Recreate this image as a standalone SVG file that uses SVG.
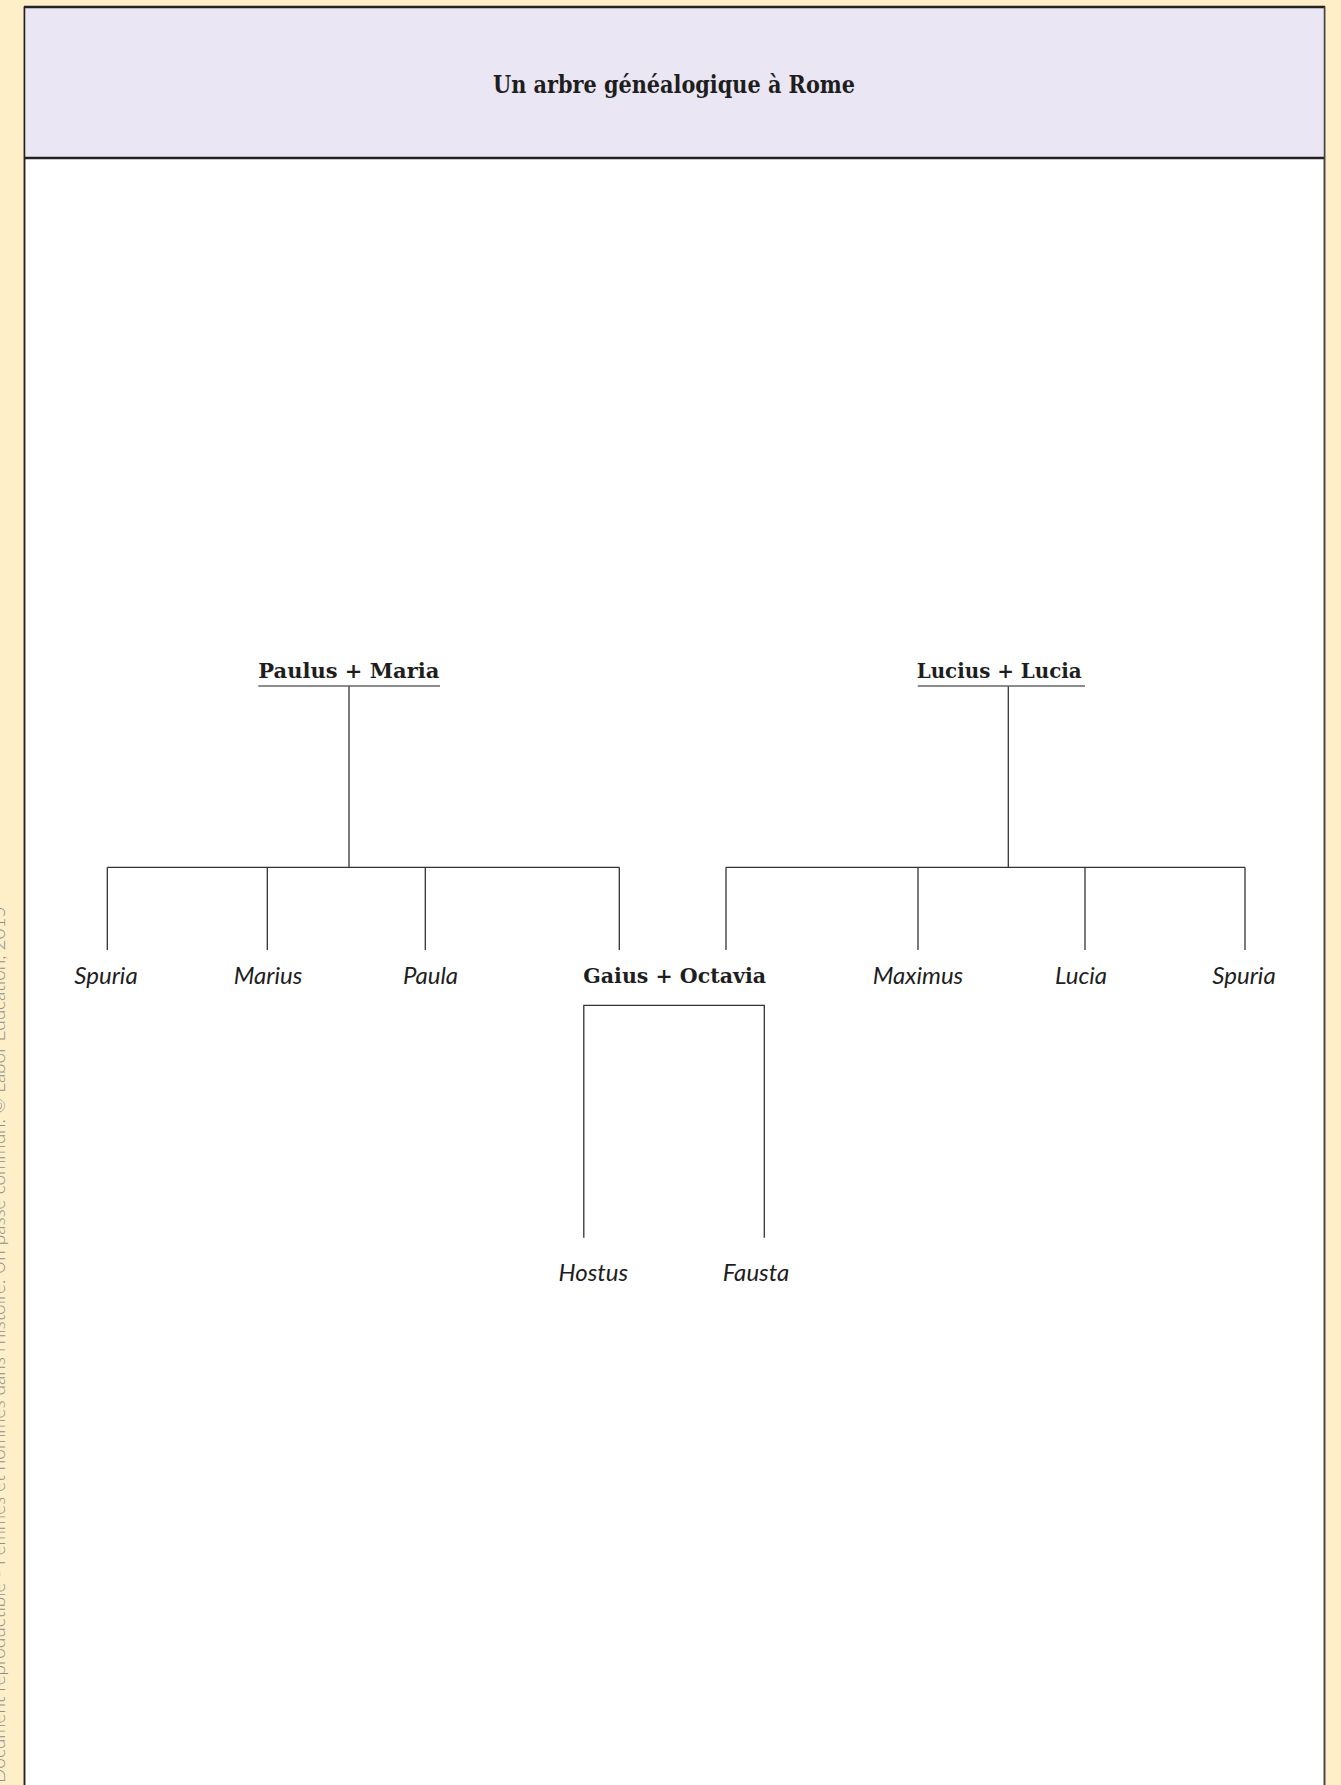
<svg xmlns="http://www.w3.org/2000/svg" width="1341" height="1785" viewBox="0 0 1341 1785">
<style>
.title{font-family:"DejaVu Serif",serif;font-weight:bold;font-size:24px;fill:#1e1e1e}
.couple{font-family:"DejaVu Serif",serif;font-weight:bold;font-size:21px;fill:#1e1e1e}
.child{font-family:Lato,"Open Sans",sans-serif;font-style:italic;font-size:24px;fill:#1e1e1e;text-anchor:middle}
.wm{font-family:Lato,"Open Sans",sans-serif;font-weight:300;font-size:19px;fill:#8f8f8f}
.ln{stroke:#333;stroke-width:1.3;fill:none}
.ul{stroke:#666;stroke-width:1.6}
</style>
<rect x="0" y="0" width="1341" height="1785" fill="#FFEFC8"/>
<rect x="24.5" y="7" width="1300" height="1800" fill="#ffffff" stroke="#2a2a2a" stroke-width="1.5"/>
<rect x="24.5" y="7" width="1300" height="151" fill="#EAE6F4"/>
<line x1="24" y1="7" x2="1325" y2="7" stroke="#222" stroke-width="2.5"/>
<line x1="24" y1="158" x2="1325" y2="158" stroke="#222" stroke-width="2.5"/>
<line x1="24.5" y1="7" x2="24.5" y2="1785" stroke="#222" stroke-width="1.5"/>
<line x1="1324.5" y1="7" x2="1324.5" y2="1785" stroke="#444" stroke-width="1.5"/>
<text class="wm" transform="translate(5,1783) rotate(-90)">Document reproductible - Femmes et hommes dans l'histoire. Un passé commun. © Labor Éducation, 2015</text>
<g id="title"><text class="title" x="493" y="92.5" textLength="362" lengthAdjust="spacingAndGlyphs">Un arbre généalogique à Rome</text></g>
<g id="connectors">
<line class="ln" x1="349" y1="686" x2="349" y2="867.3"/>
<line class="ln" x1="107.3" y1="867.3" x2="619.3" y2="867.3"/>
<line class="ln" x1="107.3" y1="867.3" x2="107.3" y2="950"/>
<line class="ln" x1="267.3" y1="867.3" x2="267.3" y2="950"/>
<line class="ln" x1="425.3" y1="867.3" x2="425.3" y2="950"/>
<line class="ln" x1="619.3" y1="867.3" x2="619.3" y2="950"/>
<line class="ln" x1="1008.3" y1="686" x2="1008.3" y2="867.3"/>
<line class="ln" x1="726" y1="867.3" x2="1245" y2="867.3"/>
<line class="ln" x1="726" y1="867.3" x2="726" y2="950"/>
<line class="ln" x1="918" y1="867.3" x2="918" y2="950"/>
<line class="ln" x1="1085" y1="867.3" x2="1085" y2="950"/>
<line class="ln" x1="1245" y1="867.3" x2="1245" y2="950"/>
<polyline class="ln" points="583.8,1237.7 583.8,1005.3 764.3,1005.3 764.3,1237.7"/>
</g>
<g id="paulus-maria"><text class="couple" x="258.3" y="678" textLength="181" lengthAdjust="spacingAndGlyphs">Paulus + Maria</text><line class="ul" x1="258.3" y1="686" x2="440" y2="686"/></g>
<g id="lucius-lucia"><text class="couple" x="916.7" y="678" textLength="165" lengthAdjust="spacingAndGlyphs">Lucius + Lucia</text><line class="ul" x1="917.7" y1="686" x2="1085" y2="686"/></g>
<g id="spuria1"><text class="child" x="106" y="984">Spuria</text></g>
<g id="marius"><text class="child" x="268" y="984">Marius</text></g>
<g id="paula"><text class="child" x="430.5" y="984">Paula</text></g>
<g id="gaius-octavia"><text class="couple" x="583.3" y="983.3" textLength="182.7" lengthAdjust="spacingAndGlyphs">Gaius + Octavia</text></g>
<g id="maximus"><text class="child" x="918" y="984">Maximus</text></g>
<g id="lucia"><text class="child" x="1081" y="984">Lucia</text></g>
<g id="spuria2"><text class="child" x="1244" y="984">Spuria</text></g>
<g id="hostus"><text class="child" x="593.3" y="1280.7">Hostus</text></g>
<g id="fausta"><text class="child" x="756" y="1280.7">Fausta</text></g>
</svg>
